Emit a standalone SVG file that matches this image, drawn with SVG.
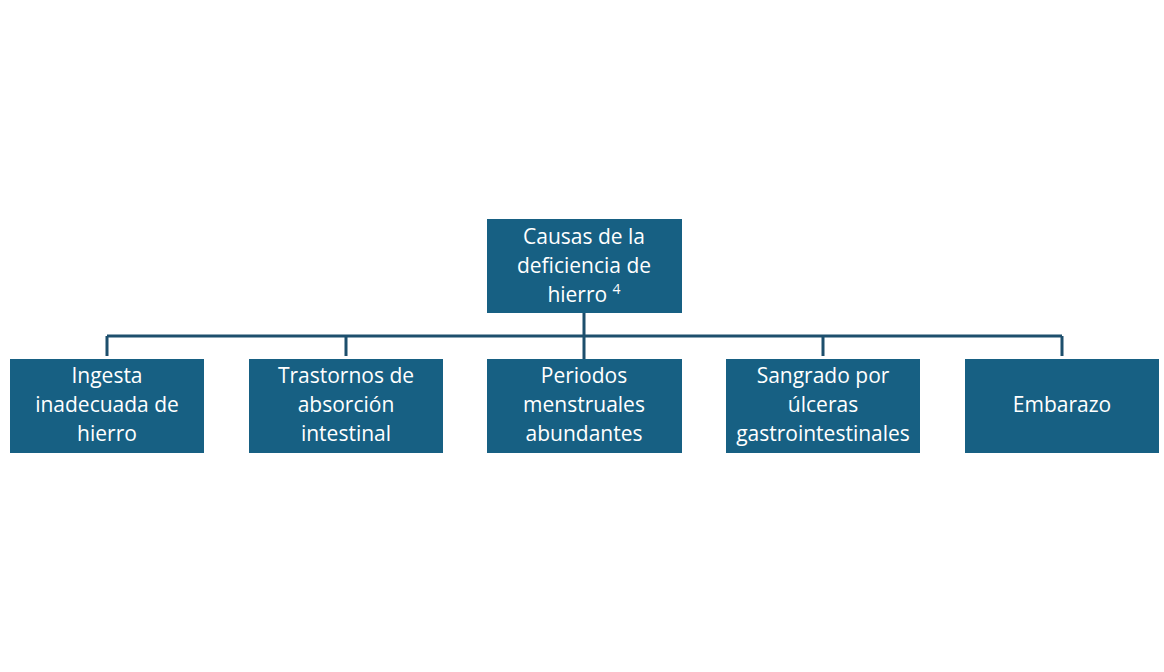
<svg xmlns="http://www.w3.org/2000/svg" width="1164" height="672" viewBox="0 0 1164 672">
<style>
.b{fill:#176083}
.t{font-family:"Open Sans","Liberation Sans",sans-serif;font-size:21px;fill:#fff;text-anchor:middle}
.c{stroke:#1d4f6d;stroke-width:3;fill:none}
</style>
<defs><clipPath id="cp"><rect x="726" y="359" width="194" height="94"/></clipPath></defs>
<rect width="1164" height="672" fill="#fff"/>
<g id="connectors">
<path class="c" d="M584 313V359M107 336H1062M107 336V356M346 336V356M823 336V356M1062 336V356"/>
</g>
<g id="root"><rect class="b" x="487" y="219" width="195" height="94"/>
<text class="t"><tspan x="584" y="244">Causas de la</tspan><tspan x="584" y="273">deficiencia de</tspan><tspan x="584" y="302">hierro <tspan font-size="14" dy="-8">4</tspan></tspan></text></g>
<g id="n1"><rect class="b" x="10" y="359" width="194" height="94"/>
<text class="t"><tspan x="107" y="383">Ingesta</tspan><tspan x="107" y="412">inadecuada de</tspan><tspan x="107" y="441">hierro</tspan></text></g>
<g id="n2"><rect class="b" x="249" y="359" width="194" height="94"/>
<text class="t"><tspan x="346" y="383">Trastornos de</tspan><tspan x="346" y="412">absorción</tspan><tspan x="346" y="441">intestinal</tspan></text></g>
<g id="n3"><rect class="b" x="487" y="359" width="195" height="94"/>
<text class="t"><tspan x="584" y="383">Periodos</tspan><tspan x="584" y="412">menstruales</tspan><tspan x="584" y="441">abundantes</tspan></text></g>
<g id="n4"><rect class="b" x="726" y="359" width="194" height="94"/>
<text class="t" clip-path="url(#cp)"><tspan x="823" y="383">Sangrado por</tspan><tspan x="823" y="412">úlceras</tspan><tspan x="823" y="441">gastrointestinales</tspan></text></g>
<g id="n5"><rect class="b" x="965" y="359" width="194" height="94"/>
<text class="t"><tspan x="1062" y="412">Embarazo</tspan></text></g>
</svg>
